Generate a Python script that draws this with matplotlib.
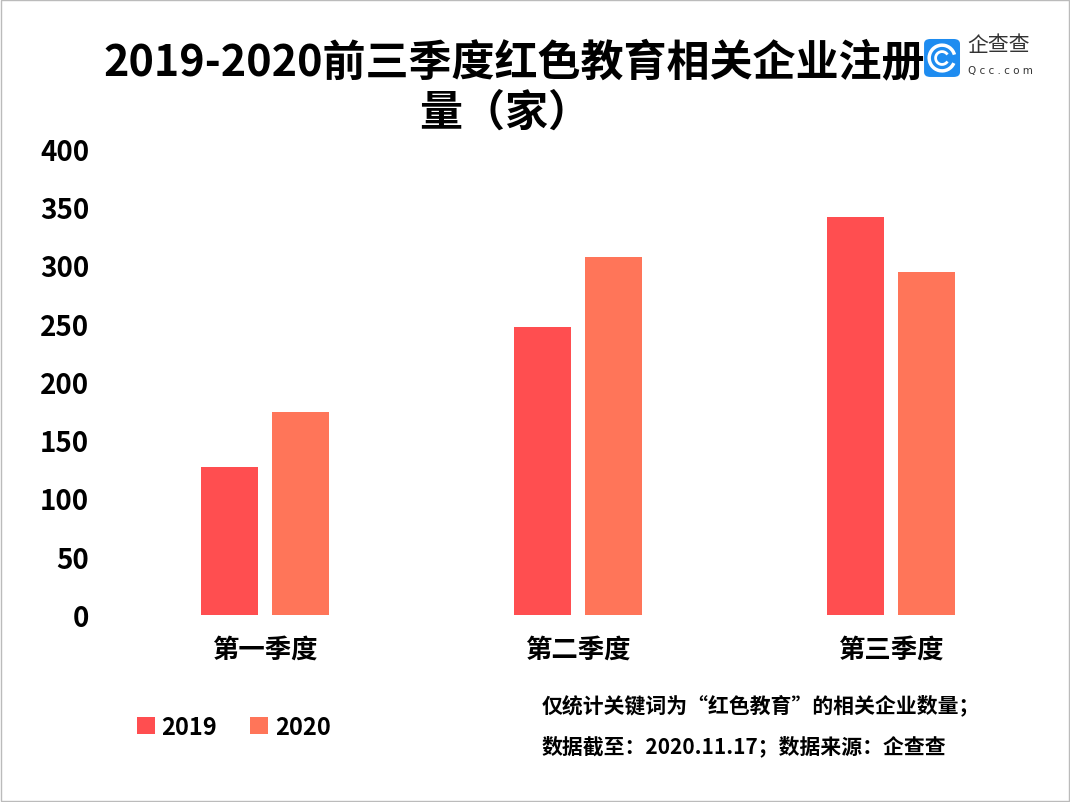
import matplotlib
matplotlib.use("Agg")
import matplotlib.pyplot as plt
import numpy as np
from matplotlib.patches import Rectangle, FancyBboxPatch, Arc

plt.rcParams['font.family'] = ['Noto Sans CJK SC', 'DejaVu Sans']

# data
quarters = ["第一季度", "第二季度", "第三季度"]
years = ["2019", "2020"]
v2019 = [127, 247, 342]
v2020 = [174, 307, 294]
colors = ["#FF4E50", "#FF7559"]

fig = plt.figure(figsize=(10.7, 8.03), dpi=100)
ax = fig.add_axes([0.1014, 0.2329, 0.8776, 0.5803])

x = np.arange(len(quarters))
w = 0.18
ax.bar(x - 0.113, v2019, w, color=colors[0], label=years[0])
ax.bar(x + 0.113, v2020, w, color=colors[1], label=years[1])

ax.set_xlim(-0.5, 2.5)
ax.set_ylim(0, 400)
ax.set_yticks(range(0, 401, 50))
ax.set_xticks(x)
ax.set_xticklabels(quarters, fontsize=19, fontweight="bold")
for t in ax.get_yticklabels():
    t.set_fontweight("bold")
ax.tick_params(axis="y", labelsize=20, length=0, pad=14)
ax.tick_params(axis="x", length=0, pad=15)
for s in ax.spines.values():
    s.set_visible(False)

# title
fig.text(0.481, 0.922, "2019-2020前三季度红色教育相关企业注册", ha="center", va="center",
         fontsize=31, fontweight="bold")
fig.text(0.472, 0.860, "量（家）", ha="center", va="center",
         fontsize=31, fontweight="bold")

# legend
leg = ax.legend(loc="center left", bbox_to_anchor=(0.108, 0.094),
                bbox_transform=fig.transFigure, ncol=2, frameon=False,
                prop={"size": 17, "weight": "bold"}, handlelength=0.75, handleheight=0.75,
                handletextpad=0.3, columnspacing=1.4)

# notes
fig.text(0.506, 0.121, "仅统计关键词为“红色教育”的相关企业数量；", ha="left", va="center",
         fontsize=15, fontweight="bold")
fig.text(0.506, 0.070, "数据截至：2020.11.17；数据来源：企查查", ha="left", va="center",
         fontsize=15, fontweight="bold")

# logo
box = FancyBboxPatch((0.8636, 0.9029), 0.0336, 0.0473, boxstyle="round,pad=0,rounding_size=0.006",
                     transform=fig.transFigure, facecolor="#1E8CF0", edgecolor="none")
fig.patches.append(box)
cx, cy = 0.8804, 0.9265
fig.patches.append(Arc((cx, cy), 0.024, 0.032, theta1=20, theta2=330, transform=fig.transFigure,
                       color="white", linewidth=2.5))
fig.patches.append(Arc((cx, cy), 0.012, 0.016, theta1=40, theta2=320, transform=fig.transFigure,
                       color="white", linewidth=2))
fig.text(0.904, 0.944, "企查查", ha="left", va="center", fontsize=15, color="#333333")
fig.text(0.905, 0.912, "Q c c . c o m", ha="left", va="center", fontsize=7.5, color="#333333",
         family=["DejaVu Sans"])

# border
fig.patches.append(Rectangle((0.001, 0.001), 0.998, 0.998, transform=fig.transFigure,
                             fill=False, edgecolor="#BBBBBB", linewidth=1))

fig.savefig("out.png", dpi=100)
